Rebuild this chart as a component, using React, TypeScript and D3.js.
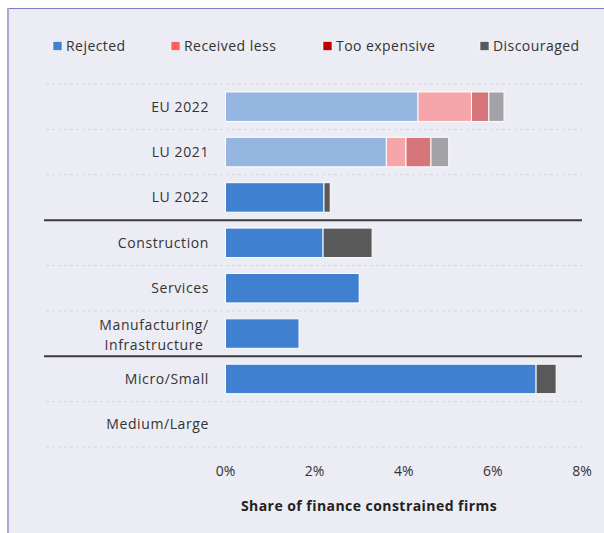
import React from "react";
import * as d3 from "d3";

const categories = ["EU 2022", "LU 2021", "LU 2022", "Construction", "Services", "Manufacturing/\nInfrastructure", "Micro/Small", "Medium/Large"];
const seriesNames = ["Rejected", "Received less", "Too expensive", "Discouraged"];
const rejected = [4.32, 3.61, 2.21, 2.19, 3.0, 1.65, 6.97, 0];
const receivedLess = [1.2, 0.44, 0, 0, 0, 0, 0, 0];
const tooExpensive = [0.39, 0.56, 0, 0, 0, 0, 0, 0];
const discouraged = [0.34, 0.4, 0.14, 1.1, 0, 0, 0.45, 0];
const faded = ["EU 2022", "LU 2021"];
const separatorsAfter = ["LU 2022", "Manufacturing/\nInfrastructure"];
const xTicks = [0, 2, 4, 6, 8];
const colors = ["#4080d0", "#ff5f5f", "#c00000", "#595959"];

const FONT = "'Open Sans', 'Noto Sans', sans-serif";

export default function App() {
  const W = 604, H = 533;
  const x = d3.scaleLinear().domain([0, 8]).range([225.5, 582]);
  const y = d3.scaleBand<string>().domain(categories).range([84, 447]).paddingInner(0.35).paddingOuter(0.175);
  const step = y.step();
  const rows = categories.map((c, i) => ({ c, vals: [rejected[i], receivedLess[i], tooExpensive[i], discouraged[i]] }));
  const stack = d3.stack<any>().keys(["0", "1", "2", "3"]).value((d: any, k: string) => d.vals[+k]);
  const stacked = stack(rows);

  const legendX = [53, 171, 323, 480];

  const boundaries = d3.range(categories.length + 1).map((i) => 84 + i * step);
  const solidIdx = separatorsAfter.map((c) => categories.indexOf(c) + 1);

  return (
    <svg width={W} height={H} style={{ position: "absolute", left: 0, top: 0 }} fontFamily={FONT}>
      <rect x={0} y={0} width={W} height={H} fill="#ffffff" />
      <rect x={8} y={8} width={W} height={H} fill="#ececf4" />
      <line x1={8} x2={W} y1={8.5} y2={8.5} stroke="#7c7cc8" strokeWidth={1.2} />
      <line x1={8} x2={8} y1={8} y2={H} stroke="#a8a8d8" strokeWidth={2} />

      {seriesNames.map((s, i) => (
        <g key={s}>
          <rect x={legendX[i]} y={41.5} width={9} height={9} fill={colors[i]} stroke="#fff" strokeWidth={0.6} />
          <text x={legendX[i] + 13} y={50.5} fontSize={14} fill="#333" letterSpacing={0.45}>{s}</text>
        </g>
      ))}

      {boundaries.map((b, i) =>
        solidIdx.includes(i) ? (
          <line key={i} x1={44} x2={582} y1={b} y2={b} stroke="#3a3a3a" strokeWidth={2} />
        ) : (
          <line key={i} x1={46} x2={582} y1={b} y2={b} stroke="#d6d6e0" strokeWidth={1} strokeDasharray="3,3" />
        )
      )}

      {stacked.map((layer, si) => (
        <g key={si}>
          {layer.map((d: any, ci: number) => {
            const c = categories[ci];
            const w = x(d[1]) - x(d[0]);
            if (w <= 0.01) return null;
            return (
              <rect
                key={c}
                x={x(d[0])}
                y={y(c)}
                width={w}
                height={y.bandwidth()}
                fill={colors[si]}
                fillOpacity={faded.includes(c) ? 0.5 : 1}
                stroke="#ffffff"
                strokeWidth={1}
              />
            );
          })}
        </g>
      ))}

      {categories.map((c) => {
        const cy = (y(c) as number) + y.bandwidth() / 2;
        const lines = c.split("\n");
        if (lines.length === 1) {
          return (
            <text key={c} x={209} y={cy + 5} fontSize={14} textAnchor="end" fill="#333" letterSpacing={0.6}>{c}</text>
          );
        }
        return (
          <text key={c} x={154} y={cy} fontSize={14} textAnchor="middle" fill="#333" letterSpacing={0.6}>
            {lines.map((l, i) => (
              <tspan key={i} x={154} dy={i === 0 ? -4 : 20}>{l}</tspan>
            ))}
          </text>
        );
      })}

      {xTicks.map((t) => (
        <text key={t} x={x(t)} y={476} fontSize={14} textAnchor="middle" fill="#333">{t}%</text>
      ))}

      <text x={369} y={511} fontSize={14} fontWeight="bold" textAnchor="middle" fill="#222" letterSpacing={0.45}>
        Share of finance constrained firms
      </text>
    </svg>
  );
}
